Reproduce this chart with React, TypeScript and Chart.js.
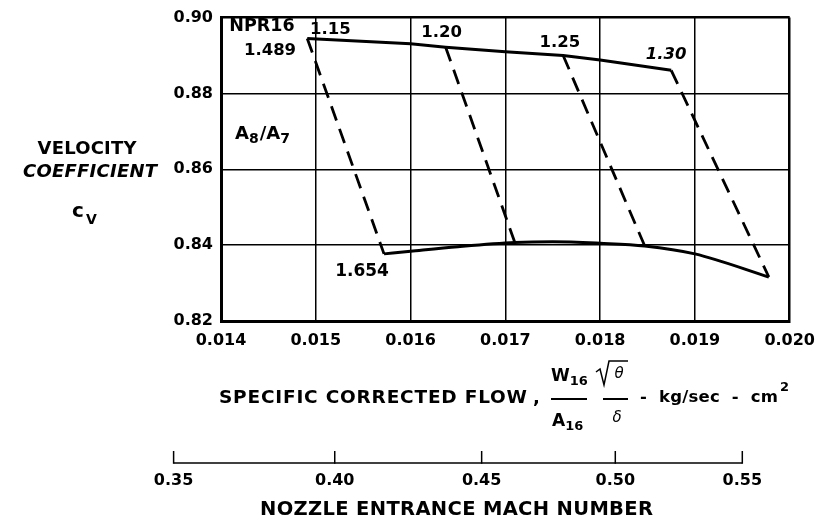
import React, { useEffect, useRef } from "react";
import { Chart, registerables } from "chart.js";
Chart.register(...registerables);

// ---- data ----
const flowMin = 0.014;
const flowMax = 0.02;
const flowStep = 0.001;
const cvMin = 0.82;
const cvMax = 0.9;
const cvStep = 0.02;

// NPR16 = 1.489 (upper boundary)
const topFlow = [0.01491, 0.016, 0.01637, 0.017, 0.01761, 0.018, 0.01875];
const topCv = [0.8945, 0.8931, 0.8922, 0.891, 0.89, 0.8888, 0.8861];

// NPR16 = 1.654 (lower boundary)
const bottomFlow = [0.01572, 0.016, 0.0165, 0.0171, 0.0175, 0.018, 0.01847, 0.019, 0.01978];
const bottomCv = [0.8377, 0.8384, 0.8396, 0.8407, 0.8409, 0.8405, 0.8398, 0.8377, 0.8316];

// A8/A7 constant lines (dashed)
const areaRatios = ["1.15", "1.20", "1.25", "1.30"];
const ratioTopFlow = [0.01491, 0.01637, 0.01761, 0.01875];
const ratioTopCv = [0.8945, 0.8922, 0.89, 0.8861];
const ratioBottomFlow = [0.01572, 0.0171, 0.01847, 0.01978];
const ratioBottomCv = [0.8377, 0.8407, 0.8398, 0.8316];

// Secondary scale: nozzle entrance Mach number vs flow
const machLabels = ["0.35", "0.40", "0.45", "0.50", "0.55"];
const machFlow = [0.0135, 0.0152, 0.01675, 0.01816, 0.0195];

const FAMILY = '"DejaVu Sans"';

function drawText(
  ctx: CanvasRenderingContext2D,
  s: string,
  x: number,
  cy: number,
  size: number,
  o: { bold?: boolean; italic?: boolean; align?: CanvasTextAlign; width?: number; family?: string } = {}
): number {
  ctx.save();
  ctx.font = `${o.italic ? "italic " : ""}${o.bold === false ? "" : "bold "}${size}px ${o.family ?? FAMILY}`;
  ctx.fillStyle = "#000";
  ctx.textBaseline = "alphabetic";
  const align = o.align ?? "center";
  const base = cy + 0.3645 * size;
  let w = ctx.measureText(s).width;
  if (o.width) {
    const ls = (o.width - w) / Math.max(1, s.length - 1);
    (ctx as any).letterSpacing = `${ls}px`;
    ctx.textAlign = "left";
    const left = align === "center" ? x - o.width / 2 : align === "right" ? x - o.width : x;
    ctx.fillText(s, left, base);
    w = o.width;
  } else {
    ctx.textAlign = align;
    ctx.fillText(s, x, base);
  }
  ctx.restore();
  return w;
}

function line(ctx: CanvasRenderingContext2D, pts: number[][], w: number) {
  ctx.save();
  ctx.strokeStyle = "#000";
  ctx.lineWidth = w;
  ctx.beginPath();
  pts.forEach((p, i) => (i ? ctx.lineTo(p[0], p[1]) : ctx.moveTo(p[0], p[1])));
  ctx.stroke();
  ctx.restore();
}

const textPlugin = {
  id: "textPlugin",
  afterDraw(chart: any) {
    const ctx: CanvasRenderingContext2D = chart.ctx;
    const xs = chart.scales.x;
    const ys = chart.scales.y;

    // y-axis title
    drawText(ctx, "VELOCITY", 87, 147, 18, { width: 99 });
    drawText(ctx, "COEFFICIENT", 90, 170, 18, { italic: true, width: 134 });
    drawText(ctx, "c", 72, 210, 20, { align: "left" });
    drawText(ctx, "V", 86, 219, 14, { align: "left" });

    // NPR16 header / labels
    drawText(ctx, "NPR16", 262, 25, 17.5);
    drawText(ctx, "1.489", 270, 48.5, 16.5);
    const offs = [
      [23, -10],
      [-4, -16.5],
      [-3.4, -15],
      [-5, -17.5],
    ];
    areaRatios.forEach((lab, i) => {
      const px = xs.getPixelForValue(ratioTopFlow[i]);
      const py = ys.getPixelForValue(ratioTopCv[i]);
      drawText(ctx, lab, px + offs[i][0], py + offs[i][1], 16.5, { italic: i === 3 });
    });
    {
      const px = xs.getPixelForValue(ratioBottomFlow[0]);
      const py = ys.getPixelForValue(ratioBottomCv[0]);
      drawText(ctx, "1.654", px - 22, py + 16, 17);
    }

    // A8/A7
    let ax = 235;
    ax += drawText(ctx, "A", ax, 132.5, 18, { align: "left" });
    ax += drawText(ctx, "8", ax, 138, 14, { align: "left" }) + 1;
    ax += drawText(ctx, "/", ax, 132.5, 18, { align: "left" });
    ax += drawText(ctx, "A", ax, 132.5, 18, { align: "left" });
    drawText(ctx, "7", ax, 138, 14, { align: "left" });

    // x-axis title (flow)
    drawText(ctx, "SPECIFIC CORRECTED FLOW", 219, 396, 18.5, { align: "left", width: 308 });
    drawText(ctx, ",", 533, 396, 18, { align: "left" });
    let wx = 551;
    wx += drawText(ctx, "W", wx, 375, 17, { align: "left" });
    drawText(ctx, "16", wx, 380, 13, { align: "left" });
    line(ctx, [[551, 399], [587, 399]], 2);
    let axx = 552;
    axx += drawText(ctx, "A", axx, 420, 17, { align: "left" });
    drawText(ctx, "16", axx, 425, 13, { align: "left" });
    // radical sqrt(theta)
    line(ctx, [[596, 372], [600, 369], [604, 385], [609, 361], [628, 361]], 1.5);
    drawText(ctx, "θ", 619, 373, 15, { bold: false, italic: true });
    line(ctx, [[603, 399], [628, 399]], 2);
    drawText(ctx, "δ", 617, 417, 15, { bold: false, italic: true });
    drawText(ctx, "-  kg/sec  -  cm", 640, 396, 16.5, { align: "left", width: 138 });
    drawText(ctx, "2", 780, 386, 13, { align: "left" });

    // Mach number scale
    const axisY = 463;
    const mx = machFlow.map((f) => xs.getPixelForValue(f));
    line(ctx, [[mx[0], axisY], [mx[mx.length - 1], axisY]], 1.5);
    mx.forEach((x, i) => {
      line(ctx, [[x, axisY - 12], [x, axisY + 0.75]], 1.5);
      drawText(ctx, machLabels[i], x, 479, 16);
    });
    drawText(ctx, "NOZZLE ENTRANCE MACH NUMBER", 260, 508, 19.5, { align: "left", width: 393 });
  },
};

export default function App() {
  const ref = useRef<HTMLCanvasElement | null>(null);
  useEffect(() => {
    if (!ref.current) return;
    const pts = (xs: number[], ys: number[]) => xs.map((x, i) => ({ x, y: ys[i] }));
    const datasets: any[] = [
      {
        data: pts(topFlow, topCv),
        borderColor: "#000",
        borderWidth: 3,
        tension: 0,
      },
      {
        data: pts(bottomFlow, bottomCv),
        borderColor: "#000",
        borderWidth: 3,
        cubicInterpolationMode: "monotone",
      },
      ...areaRatios.map((_, i) => ({
        data: pts([ratioTopFlow[i], ratioBottomFlow[i]], [ratioTopCv[i], ratioBottomCv[i]]),
        borderColor: "#000",
        borderWidth: 2.8,
        borderDash: [15, 9],
        tension: 0,
      })),
    ];
    const tickFont = { family: "DejaVu Sans", weight: "bold" as const, size: 16 };
    const chart = new Chart(ref.current, {
      type: "line",
      data: { datasets },
      options: {
        responsive: false,
        animation: false,
        layout: { padding: { top: 13, right: 32, left: 0, bottom: 0 } },
        plugins: { legend: { display: false }, tooltip: { enabled: false } },
        elements: { point: { radius: 0 } },
        scales: {
          x: {
            type: "linear",
            min: flowMin,
            max: flowMax,
            afterFit: (s: any) => {
              s.height = 202;
            },
            ticks: {
              stepSize: flowStep,
              callback: (v: any) => Number(v).toFixed(3),
              font: tickFont,
              color: "#000",
              padding: 10,
              maxRotation: 0,
              autoSkip: false,
            },
            grid: {
              color: "#000",
              lineWidth: (c: any) => (c.index === 6 ? 2.5 : 1.5),
              drawTicks: false,
            },
            border: { color: "#000", width: 3 },
          },
          y: {
            type: "linear",
            min: cvMin,
            max: cvMax,
            afterFit: (s: any) => {
              s.width = 221;
            },
            ticks: {
              stepSize: cvStep,
              callback: (v: any) => Number(v).toFixed(2),
              font: tickFont,
              color: "#000",
              padding: 8,
            },
            grid: {
              color: "#000",
              lineWidth: (c: any) => (c.index === 4 ? 2.5 : 1.5),
              drawTicks: false,
            },
            border: { color: "#000", width: 3 },
          },
        },
      } as any,
      plugins: [textPlugin],
    });
    return () => chart.destroy();
  }, []);
  return (
    <div style={{ position: "absolute", left: 0, top: 0, width: 825, height: 523, background: "#fff" }}>
      <canvas ref={ref} width={825} height={523} />
    </div>
  );
}
